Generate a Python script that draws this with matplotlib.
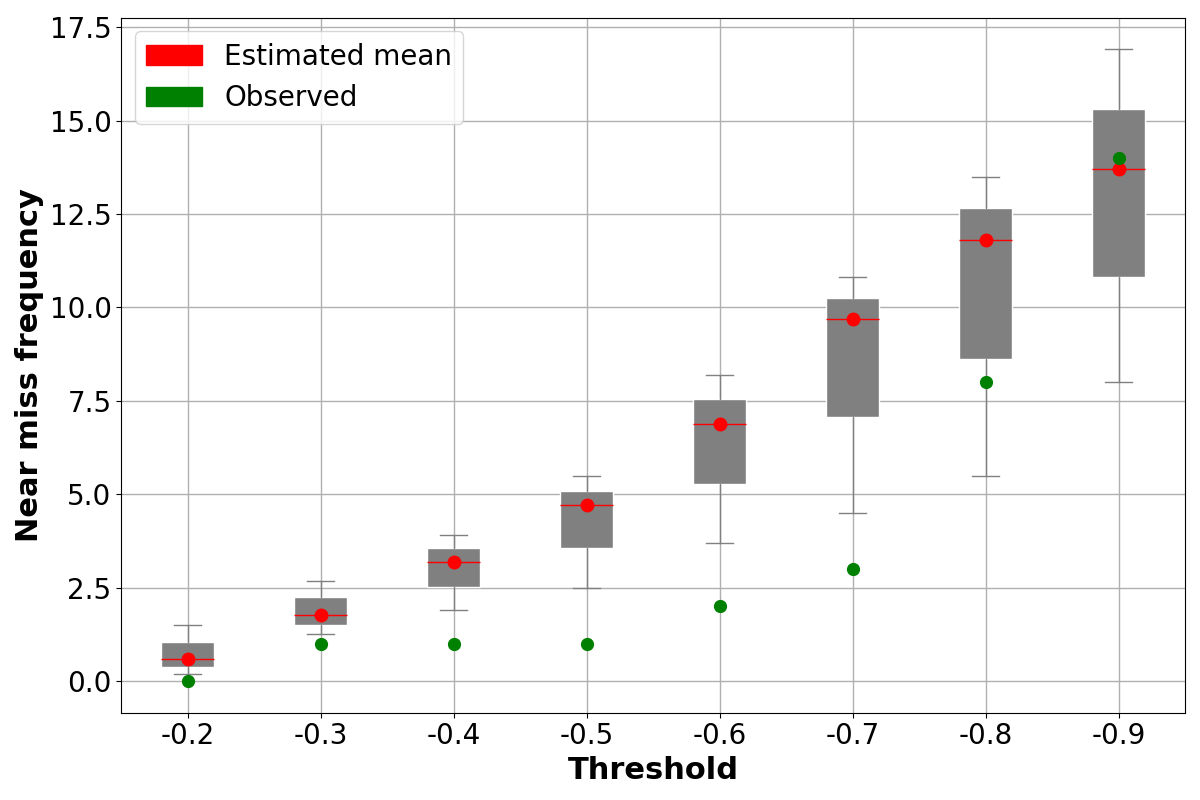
import matplotlib
matplotlib.use("Agg")
import matplotlib.pyplot as plt
import matplotlib.patches as mpatches

thresholds = ["-0.2", "-0.3", "-0.4", "-0.5", "-0.6", "-0.7", "-0.8", "-0.9"]
whisker_low = [0.18, 1.25, 1.89, 2.49, 3.69, 4.49, 5.48, 8.0]
q1 = [0.38, 1.51, 2.52, 3.56, 5.28, 7.08, 8.62, 10.82]
median = [0.58, 1.78, 3.18, 4.70, 6.89, 9.68, 11.79, 13.69]
q3 = [1.04, 2.26, 3.56, 5.08, 7.55, 10.24, 12.66, 15.30]
whisker_high = [1.5, 2.69, 3.90, 5.49, 8.19, 10.81, 13.48, 16.91]
estimated_mean = [0.58, 1.78, 3.18, 4.70, 6.89, 9.68, 11.79, 13.69]
observed = [0, 1, 1, 1, 2, 3, 8, 14]

fig, ax = plt.subplots(figsize=(12, 8), dpi=100)
positions = list(range(1, len(thresholds) + 1))
stats = []
for i in range(len(thresholds)):
    stats.append(dict(med=median[i], q1=q1[i], q3=q3[i],
                      whislo=whisker_low[i], whishi=whisker_high[i],
                      fliers=[], label=thresholds[i]))
ax.bxp(stats, positions=positions, widths=0.4, patch_artist=True,
       showfliers=False,
       boxprops=dict(facecolor="gray", edgecolor="white", linewidth=1),
       whiskerprops=dict(color="gray", linewidth=1),
       capprops=dict(color="gray", linewidth=1),
       medianprops=dict(color="red", linewidth=1))
ax.plot(positions, estimated_mean, "o", color="red", markersize=9, zorder=5)
ax.plot(positions, observed, "o", color="green", markersize=8.5, zorder=5)

ax.set_xlim(0.5, 8.5)
ax.grid(True, color="#b0b0b0", linewidth=1)
ax.set_axisbelow(True)
ax.tick_params(labelsize=20)
ax.set_xlabel("Threshold", fontsize=22, fontweight="bold")
ax.set_ylabel("Near miss frequency", fontsize=22, fontweight="bold")
handles = [mpatches.Patch(color="red", label="Estimated mean"),
           mpatches.Patch(color="green", label="Observed")]
ax.legend(handles=handles, loc="upper left", fontsize=20)
fig.tight_layout()
fig.savefig("out.png")
